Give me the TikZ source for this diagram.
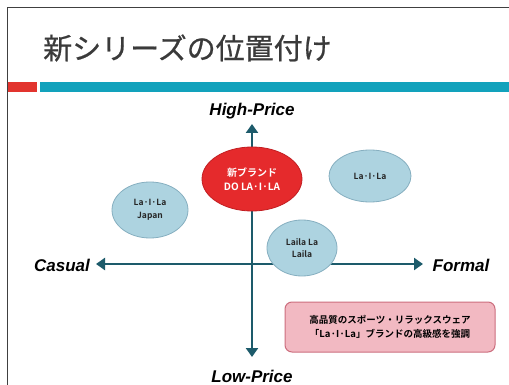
\documentclass[tikz,border=0pt]{standalone}
\usepackage{fontspec}
\setmainfont{Liberation Sans}
\newfontfamily\jp[FakeBold=0.7]{Noto Sans CJK JP}
\newfontfamily\jpb{Noto Sans CJK JP Bold}
\usetikzlibrary{arrows.meta,shapes.geometric}
\definecolor{axiscol}{HTML}{1D5B6B}
\definecolor{tealbar}{HTML}{12A2BC}
\definecolor{redbar}{HTML}{E2342E}
\definecolor{brandred}{HTML}{E52A2C}
\definecolor{brandredline}{HTML}{C21E22}
\definecolor{bluefill}{HTML}{ADD3E0}
\definecolor{blueline}{HTML}{86AFC0}
\definecolor{pinkfill}{HTML}{F2B9C2}
\definecolor{pinkline}{HTML}{CC6E7E}
\definecolor{titlecol}{HTML}{3A3A3A}
\tikzset{
  axis/.style={draw=axiscol,line width=2.4pt,-{Triangle[length=9pt,width=12pt]}},
  axlabel/.style={font=\fontsize{17}{18}\selectfont\bfseries\itshape,text=black},
  blueell/.style={ellipse,draw=blueline,line width=0.8pt,fill=bluefill,inner sep=0pt,align=center,font=\jpb\fontsize{8.5}{12.5}\selectfont,text=black!85},
  redell/.style={ellipse,draw=brandredline,line width=0.8pt,fill=brandred,inner sep=0pt,align=center,font=\jpb\fontsize{10}{14}\selectfont,text=white},
}
\begin{document}
\begin{tikzpicture}[x=1pt,y=-1pt]
\useasboundingbox (0,0) rectangle (509,385);
\fill[white] (0,0) rectangle (509,385);
% slide frame
\draw[black!75,line width=1pt] (7,385) -- (7,8) -- (509,8);
% title
\node[anchor=west,font=\jp\fontsize{29}{30}\selectfont,text=titlecol,inner sep=0pt] (title) at (43,48) {新シリーズの位置付け};
% bars
\fill[redbar] (8,82) rectangle (37,92);
\fill[tealbar] (40,82) rectangle (509,92);
% axes
\coordinate (O) at (252,264);
\coordinate (top) at (252,124);
\coordinate (bot) at (252,357);
\coordinate (left) at (96,264);
\coordinate (right) at (423,264);
\draw[axis] (O) -- (top);
\draw[axis] (O) -- (bot);
\draw[axis] (O) -- (left);
\draw[axis] (O) -- (right);
% axis labels
\node[axlabel] (hp) at (252,111) {High-Price};
\node[axlabel] (lp) at (252,376) {Low-Price};
\node[axlabel] (cas) at (62,265) {Casual};
\node[axlabel] (for) at (461,265) {Formal};
% ellipses
\node[redell,minimum width=100pt,minimum height=64pt] (new) at (252,179) {新ブランド\\DO LA·I·LA};
\node[blueell,minimum width=76pt,minimum height=56pt] (jap) at (150,210) {La·I·La\\Japan};
\node[blueell,minimum width=82pt,minimum height=52pt] (lil) at (370,176) {La·I·La};
\node[blueell,minimum width=70pt,minimum height=56pt] (lai) at (302,248) {Laila La\\Laila};
% note box
\node[draw=pinkline,line width=1pt,fill=pinkfill,rounded corners=7pt,minimum width=210pt,minimum height=50pt,align=center,font=\jpb\fontsize{9.5}{14}\selectfont,text=black] (note) at (390,327) {高品質のスポーツ・リラックスウェア\\「La·I·La」ブランドの高級感を強調};
\end{tikzpicture}
\end{document}
